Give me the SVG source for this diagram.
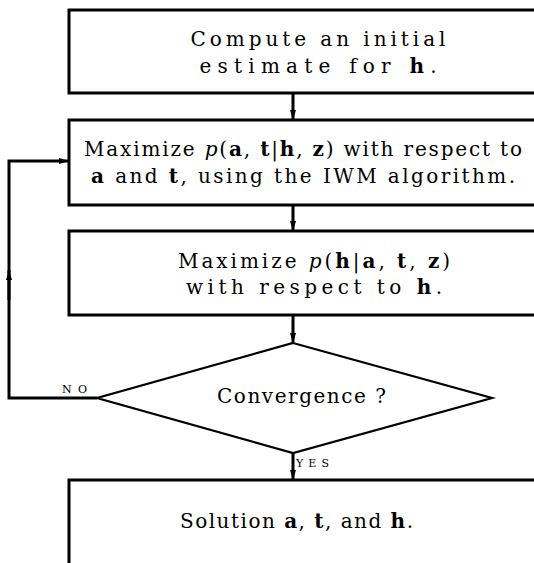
<svg xmlns="http://www.w3.org/2000/svg" width="534" height="563" viewBox="0 0 534 563">
  <style>
    .box { fill: #fff; stroke: #000; stroke-width: 3; }
    .dia { fill: #fff; stroke: #000; stroke-width: 2.2; stroke-linejoin: miter; }
    .wire { fill: none; stroke: #000; stroke-width: 3; }
    .t { font-family: "DejaVu Serif", "Liberation Serif", serif; font-size: 20px; fill: #000; text-anchor: middle; }
    .sc { font-family: "DejaVu Serif", "Liberation Serif", serif; font-size: 11px; fill: #000; }
    .b { font-weight: bold; }
    .i { font-style: italic; }
  </style>
  <defs>
    <marker id="ah" viewBox="0 0 10 10" refX="10" refY="5" markerWidth="10" markerHeight="10" markerUnits="userSpaceOnUse" orient="auto">
      <path d="M0,2 L10,5 L0,8 Z" fill="#000"/>
    </marker>
  </defs>

  <g id="connectors">
    <line class="wire" x1="293" y1="93" x2="293" y2="120" marker-end="url(#ah)"/>
    <line class="wire" x1="293" y1="205" x2="293" y2="231" marker-end="url(#ah)"/>
    <line class="wire" x1="293" y1="315" x2="293" y2="343" marker-end="url(#ah)"/>
    <line class="wire" x1="293" y1="453" x2="293" y2="480" marker-end="url(#ah)"/>
    <!-- NO branch loops back to the second step -->
    <polyline class="wire" points="97,398 9,398 9,161 69,161" marker-end="url(#ah)"/>
    <line class="wire" x1="9" y1="300" x2="9" y2="270" marker-end="url(#ah)"/>
    <text class="sc" x="62" y="393" textLength="25" lengthAdjust="spacing">NO</text>
    <text class="sc" x="296" y="467" textLength="33" lengthAdjust="spacing">YES</text>
  </g>

  <g id="init">
    <rect class="box" x="69" y="10" width="500" height="83"/>
    <text class="t" x="318" y="46" textLength="255" lengthAdjust="spacing">Compute an initial</text>
    <text class="t" x="318" y="73" textLength="237" lengthAdjust="spacing">estimate for <tspan class="b">h</tspan>.</text>
  </g>

  <g id="max-at">
    <rect class="box" x="69" y="120" width="500" height="85"/>
    <text class="t" x="303" y="156" textLength="438" lengthAdjust="spacing">Maximize <tspan class="i">p</tspan>(<tspan class="b">a</tspan>, <tspan class="b">t</tspan>|<tspan class="b">h</tspan>, <tspan class="b">z</tspan>) with respect to</text>
    <text class="t" x="303" y="183" textLength="424" lengthAdjust="spacing"><tspan class="b">a</tspan> and <tspan class="b">t</tspan>, using the IWM algorithm.</text>
  </g>

  <g id="max-h">
    <rect class="box" x="69" y="231" width="500" height="84"/>
    <text class="t" x="314" y="268" textLength="272" lengthAdjust="spacing">Maximize <tspan class="i">p</tspan>(<tspan class="b">h</tspan>|<tspan class="b">a</tspan>, <tspan class="b">t</tspan>, <tspan class="b">z</tspan>)</text>
    <text class="t" x="314" y="294" textLength="256" lengthAdjust="spacing">with respect to <tspan class="b">h</tspan>.</text>
  </g>

  <g id="converge">
    <polygon class="dia" points="293,343 492,398 293,453 97,398"/>
    <text class="t" x="301.5" y="403" textLength="169" lengthAdjust="spacing">Convergence ?</text>
  </g>

  <g id="solution">
    <rect class="box" x="69" y="480" width="500" height="100"/>
    <text class="t" x="296.5" y="528" textLength="233" lengthAdjust="spacing">Solution <tspan class="b">a</tspan>, <tspan class="b">t</tspan>, and <tspan class="b">h</tspan>.</text>
  </g>
</svg>
